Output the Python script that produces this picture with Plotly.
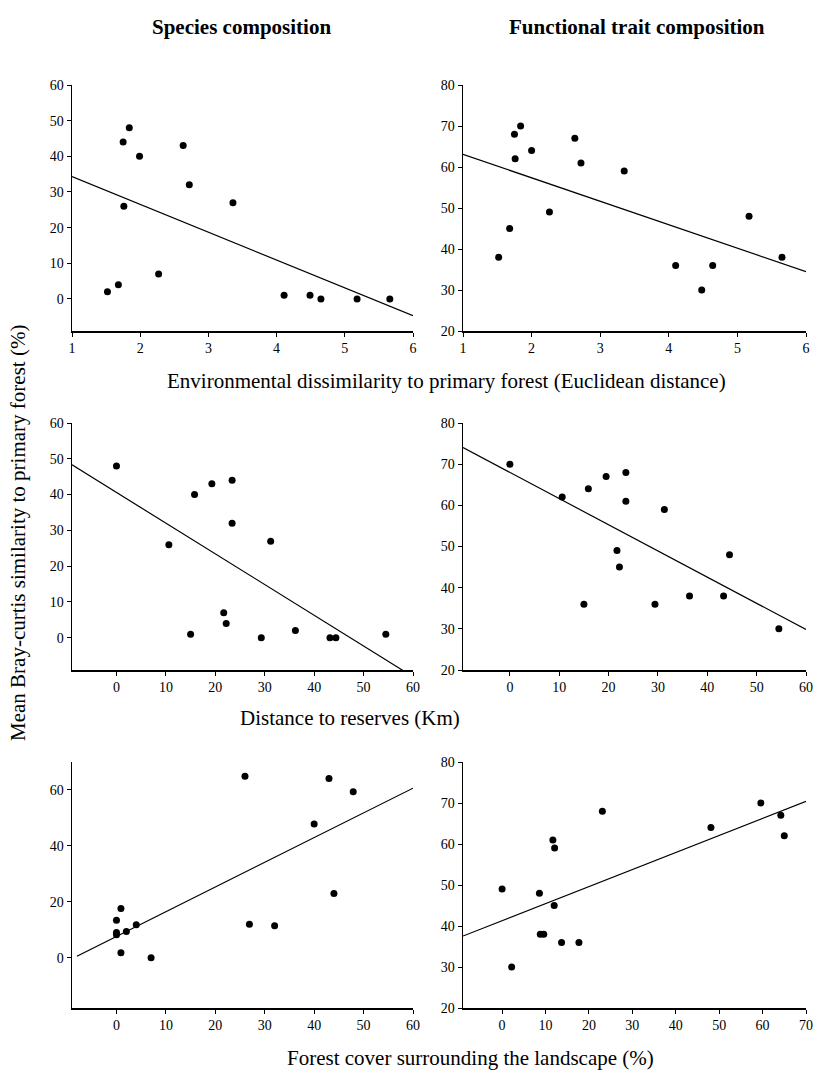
import plotly.graph_objects as go
from plotly.subplots import make_subplots

# ---- data ----
env_dist = [1.52, 1.68, 1.75, 1.84, 1.76, 1.99, 2.27, 2.63, 2.72, 3.36, 4.11, 4.49, 4.65, 5.18, 5.66]
sp_env = [2, 4, 44, 48, 26, 40, 7, 43, 32, 27, 1, 1, 0, 0, 0]
env_dist_f = [1.52, 1.68, 1.75, 1.84, 1.76, 2.0, 2.26, 2.63, 2.72, 3.35, 4.10, 4.48, 4.64, 5.17, 5.65]
fn_env = [38, 45, 68, 70, 62, 64, 49, 67, 61, 59, 36, 30, 36, 48, 38]

res_dist = [0, 10.6, 15.0, 15.8, 19.3, 23.4, 23.4, 21.7, 22.2, 29.3, 31.2, 36.2, 43.2, 44.4, 54.5]
sp_res = [48, 26, 1, 40, 43, 44, 32, 7, 4, 0, 27, 2, 0, 0, 1]
res_dist_f = [0, 10.6, 15.0, 15.9, 19.5, 23.5, 23.5, 21.7, 22.2, 29.4, 31.3, 36.4, 43.3, 44.5, 54.5]
fn_res = [70, 62, 36, 64, 67, 68, 61, 49, 45, 36, 59, 38, 38, 48, 30]

cover = [26.0, 43.0, 47.9, 40.0, 44.0, 26.9, 32.0, 0.9, 0.0, 0.0, 0.0, 2.0, 4.0, 0.9, 7.0]
sp_cover = [64.9, 64.1, 59.4, 47.8, 23.0, 12.0, 11.4, 17.6, 13.4, 9.0, 8.2, 9.4, 11.8, 1.8, 0]
cover_f = [0, 2.2, 8.6, 11.7, 12.1, 12.0, 8.8, 9.6, 13.7, 17.7, 23.1, 48.1, 59.6, 64.2, 65.0]
fn_cover = [49, 30, 48, 61, 59, 45, 38, 38, 36, 36, 68, 64, 70, 67, 62]

# fitted regression lines (intercept, slope, x start, x end)
fit_intercepts = [42.1, 68.8, 40.6, 68.0, 7.6, 41.3]
fit_slopes = [-7.8, -5.72, -0.858, -0.636, 0.884, 0.416]
fit_x0 = [1, 1, -9, -9.5, -8, -9]
fit_x1 = [6, 6, 60, 60, 60, 70]

x_ranges = [[1, 6], [1, 6], [-9, 60], [-9.5, 60], [-9, 60], [-9, 70]]
y_ranges = [[-9, 60], [20, 80], [-9, 60], [20, 80], [-18, 70], [20, 80]]
x_ticks = [[1, 2, 3, 4, 5, 6], [1, 2, 3, 4, 5, 6],
           [0, 10, 20, 30, 40, 50, 60], [0, 10, 20, 30, 40, 50, 60],
           [0, 10, 20, 30, 40, 50, 60], [0, 10, 20, 30, 40, 50, 60, 70]]
y_ticks = [[0, 10, 20, 30, 40, 50, 60], [20, 30, 40, 50, 60, 70, 80],
           [0, 10, 20, 30, 40, 50, 60], [20, 30, 40, 50, 60, 70, 80],
           [0, 20, 40, 60], [20, 30, 40, 50, 60, 70, 80]]

col_titles = ["Species composition", "Functional trait composition"]
x_titles = ["Environmental dissimilarity to primary forest (Euclidean distance)",
            "Distance to reserves (Km)",
            "Forest cover surrounding the landscape (%)"]
y_title = "Mean Bray-curtis similarity to primary forest (%)"

panels = [(env_dist, sp_env), (env_dist_f, fn_env),
          (res_dist, sp_res), (res_dist_f, fn_res),
          (cover, sp_cover), (cover_f, fn_cover)]

FONT = "Liberation Serif"
W, H = 819, 1074


def px(x):
    return x / W


def py(y):
    return 1 - y / H


fig = make_subplots(rows=3, cols=2)

col_dom = [[px(72), px(413)], [px(463), px(806)]]
row_dom = [[py(331), py(85)], [py(670), py(423)], [py(1008), py(762)]]

for i, (xs, ys) in enumerate(panels):
    r, c = i // 2 + 1, i % 2 + 1
    fig.add_trace(go.Scatter(x=xs, y=ys, mode="markers",
                             marker=dict(color="black", size=7),
                             showlegend=False, cliponaxis=False), row=r, col=c)
    lx = [fit_x0[i], fit_x1[i]]
    ly = [fit_intercepts[i] + fit_slopes[i] * v for v in lx]
    fig.add_trace(go.Scatter(x=lx, y=ly, mode="lines",
                             line=dict(color="black", width=1.2),
                             showlegend=False), row=r, col=c)
    fig.update_xaxes(range=x_ranges[i], tickvals=x_ticks[i], domain=col_dom[c - 1],
                     showline=True, linecolor="black", linewidth=1.5, ticks="outside",
                     ticklen=4, tickcolor="black", showgrid=False, zeroline=False,
                     automargin=False, ticklabeloverflow="allow",
                     tickfont=dict(family=FONT, size=14, color="black"),
                     row=r, col=c)
    fig.update_yaxes(range=y_ranges[i], tickvals=y_ticks[i], domain=row_dom[r - 1],
                     showline=True, linecolor="black", linewidth=1.5, ticks="outside",
                     ticklen=4, tickcolor="black", showgrid=False, zeroline=False,
                     automargin=False, ticklabeloverflow="allow",
                     tickfont=dict(family=FONT, size=14, color="black"),
                     row=r, col=c)

ann = []
for t, xc in zip(col_titles, [241, 637]):
    ann.append(dict(text="<b>" + t + "</b>", x=px(xc), y=py(27), xref="paper", yref="paper",
                    xanchor="center", yanchor="middle",
                    showarrow=False, font=dict(family=FONT, size=21, color="black")))
for t, xc, yc in zip(x_titles, [447, 350, 471], [381, 718, 1058]):
    ann.append(dict(text=t, x=px(xc), y=py(yc), xref="paper", yref="paper",
                    xanchor="center", yanchor="middle",
                    showarrow=False, font=dict(family=FONT, size=21, color="black")))
ann.append(dict(text=y_title, x=px(18), y=py(533), xref="paper", yref="paper",
                xanchor="center", yanchor="middle",
                showarrow=False, textangle=-90, font=dict(family=FONT, size=21, color="black")))

fig.update_layout(width=W, height=H, margin=dict(l=0, r=0, t=0, b=0),
                  plot_bgcolor="white", paper_bgcolor="white", annotations=ann)

fig.write_html("out.html", config={"displayModeBar": False, "staticPlot": True},
               post_script="document.body.style.margin='0';document.body.style.overflow='hidden';")
